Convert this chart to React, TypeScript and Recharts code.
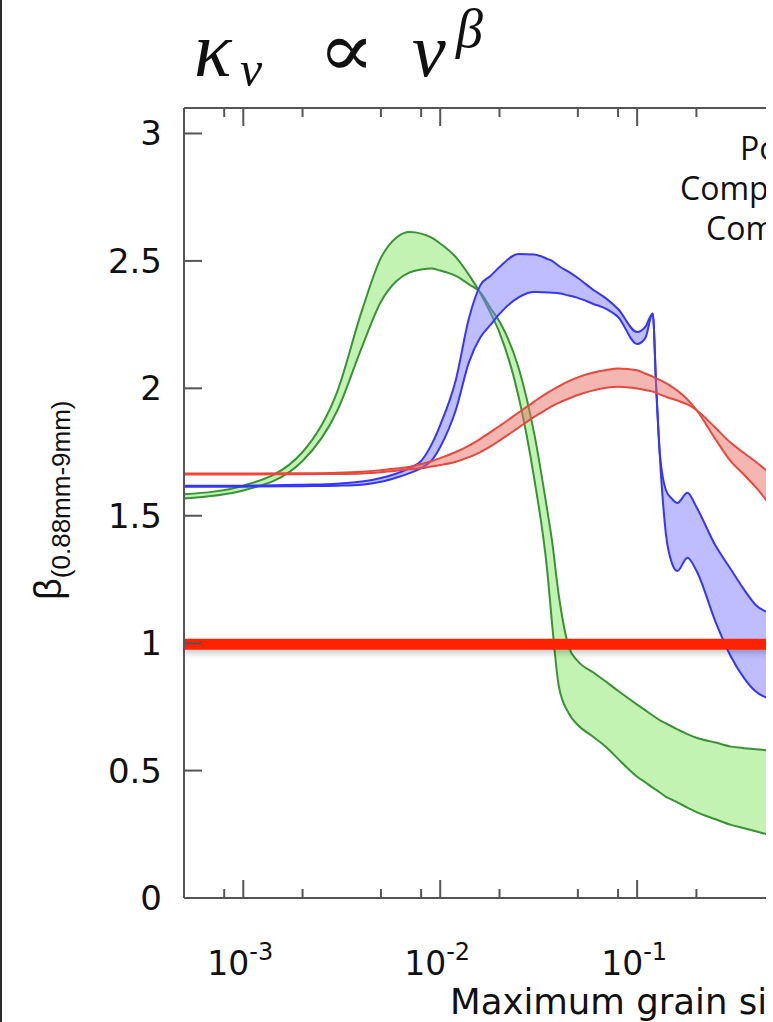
import React from "react";
import { ComposedChart, Area, XAxis, YAxis, ReferenceLine } from "recharts";

// maximum grain size (cm), log axis
const grainSize = [
  5e-4, 1e-3, 2e-3, 3e-3, 4e-3, 5e-3, 6e-3, 7e-3, 8e-3, 9e-3, 0.01, 0.012, 0.014, 0.016,
  0.018, 0.02, 0.025, 0.03, 0.035, 0.037, 0.04, 0.045, 0.05, 0.06, 0.07, 0.08, 0.1, 0.11,
  0.12, 0.125, 0.13, 0.14, 0.15, 0.16, 0.18, 0.2, 0.25, 0.3, 0.35, 0.4, 0.5, 0.6,
];

// green band: two edges
const greenA = [
  1.584, 1.618, 1.75, 1.987, 2.304, 2.512, 2.592, 2.613, 2.607, 2.592, 2.568, 2.515, 2.445, 2.372,
  2.296, 2.219, 1.968, 1.647, 1.28, 1.075, 0.832, 0.724, 0.679, 0.632, 0.591, 0.546, 0.476, 0.454,
  0.433, 0.424, 0.415, 0.397, 0.386, 0.375, 0.355, 0.337, 0.309, 0.287, 0.274, 0.262, 0.242, 0.23,
];
const greenB = [
  1.568, 1.599, 1.715, 1.912, 2.161, 2.34, 2.421, 2.455, 2.466, 2.47, 2.462, 2.441, 2.408, 2.376,
  2.315, 2.262, 2.081, 1.823, 1.519, 1.399, 1.188, 0.985, 0.929, 0.885, 0.847, 0.813, 0.759, 0.737,
  0.716, 0.707, 0.698, 0.685, 0.673, 0.662, 0.643, 0.629, 0.61, 0.594, 0.588, 0.584, 0.576, 0.57,
];

// blue band
const blueU = [
  1.618, 1.618, 1.622, 1.626, 1.634, 1.648, 1.666, 1.687, 1.715, 1.777, 1.856, 2.033, 2.276, 2.405,
  2.441, 2.476, 2.527, 2.525, 2.508, 2.5, 2.48, 2.457, 2.433, 2.386, 2.351, 2.311, 2.221, 2.241,
  2.294, 2.0, 1.758, 1.601, 1.567, 1.55, 1.59, 1.534, 1.383, 1.288, 1.209, 1.15, 1.11, 1.08,
];
const blueL = [
  1.614, 1.614, 1.616, 1.618, 1.622, 1.633, 1.65, 1.667, 1.687, 1.715, 1.77, 1.915, 2.103, 2.2,
  2.249, 2.292, 2.357, 2.378, 2.376, 2.375, 2.373, 2.364, 2.355, 2.331, 2.311, 2.28, 2.174, 2.197,
  2.294, 2.0, 1.75, 1.428, 1.315, 1.283, 1.335, 1.284, 1.084, 0.946, 0.862, 0.81, 0.776, 0.757,
];

// red band
const redA = [
  1.666, 1.666, 1.667, 1.669, 1.673, 1.679, 1.685, 1.692, 1.703, 1.714, 1.726, 1.75, 1.775, 1.802,
  1.828, 1.852, 1.905, 1.948, 1.982, 1.993, 2.008, 2.028, 2.043, 2.062, 2.072, 2.078, 2.071, 2.058,
  2.046, 2.039, 2.033, 2.02, 2.006, 1.991, 1.956, 1.915, 1.8, 1.712, 1.66, 1.612, 1.522, 1.463,
];
const redB = [
  1.662, 1.662, 1.663, 1.664, 1.666, 1.671, 1.677, 1.682, 1.686, 1.693, 1.699, 1.712, 1.73, 1.75,
  1.772, 1.795, 1.846, 1.888, 1.919, 1.93, 1.943, 1.96, 1.974, 1.992, 2.002, 2.006, 1.999, 1.993,
  1.987, 1.982, 1.976, 1.967, 1.959, 1.952, 1.937, 1.915, 1.845, 1.785, 1.745, 1.712, 1.652, 1.612,
];

// only the part of the axis that is in view
const xTicks = [8e-4, 1e-3, 2e-3, 5e-3, 8e-3, 0.01, 0.02, 0.05, 0.08, 0.1, 0.2];
const yTicks = [0, 0.5, 1, 1.5, 2, 2.5, 3];
const legendLabels = ["Porous", "Compact + ice", "Compact"];

const bands = grainSize.map((x, i) => ({
  x,
  green: [greenB[i], greenA[i]],
  blue: [blueL[i], blueU[i]],
  red: [redB[i], redA[i]],
}));

const AXIS = "#555";
const TXT = "#111";

const isDecade = (v: number) => Math.abs(Math.log10(v) - Math.round(Math.log10(v))) < 1e-6;

const BottomTick = (props: any) => {
  const { x, y, payload } = props;
  const major = isDecade(payload.value);
  return (
    <g>
      <line x1={x} x2={x} y1={y} y2={y - (major ? 18 : 9)} stroke={AXIS} strokeWidth={2} />
      {major && (
        <text x={x - 36} y={y + 77} fontFamily="DejaVu Sans" fontSize={33} fill={TXT}>
          10<tspan dy={-15} fontSize={24}>{Math.round(Math.log10(payload.value))}</tspan>
        </text>
      )}
    </g>
  );
};

const TopTick = (props: any) => {
  const { x, y, payload } = props;
  const major = isDecade(payload.value);
  return <line x1={x} x2={x} y1={y} y2={y + (major ? 18 : 9)} stroke={AXIS} strokeWidth={2} />;
};

const LeftTick = (props: any) => {
  const { x, y, payload } = props;
  return (
    <g>
      <line x1={x} x2={x + 18} y1={y} y2={y} stroke={AXIS} strokeWidth={2} />
      <text x={x - 22} y={y} dy={12} textAnchor="end" fontFamily="DejaVu Sans" fontSize={34} fill={TXT}>
        {payload.value}
      </text>
    </g>
  );
};

const ShadowLine = (props: any) => {
  const { x1, y1, x2, y2 } = props;
  return (
    <g>
      <line x1={x1} x2={x2} y1={y1 + 6} y2={y2 + 6} stroke="#000" strokeOpacity={0.22} strokeWidth={8} style={{ filter: "blur(3px)" }} />
      <line x1={x1} x2={x2} y1={y1 + 1} y2={y2 + 1} stroke="#ff2200" strokeWidth={11} />
    </g>
  );
};

export default function App() {
  return (
    <div style={{ position: "fixed", left: 0, top: 0, width: 766, height: 1022, overflow: "hidden", background: "#fff" }}>
      <div style={{ position: "absolute", left: 0, top: 0, width: 2, height: 1022, background: "#2b2b2b", zIndex: 2 }} />
      <div style={{ position: "absolute", left: 0, top: 0 }}>
        <ComposedChart width={1052} height={1022} data={bands} margin={{ top: 98, right: 21, bottom: 64, left: 104 }}>
          <XAxis
            dataKey="x"
            type="number"
            scale="log"
            domain={[5e-4, 10]}
            allowDataOverflow
            ticks={xTicks}
            interval={0}
            tickSize={0}
            tickMargin={0}
            tickLine={false}
            tick={BottomTick}
            height={60}
            axisLine={{ stroke: AXIS, strokeWidth: 2 }}
          />
          <XAxis
            xAxisId="top"
            orientation="top"
            dataKey="x"
            type="number"
            scale="log"
            domain={[5e-4, 10]}
            allowDataOverflow
            ticks={xTicks}
            interval={0}
            tickSize={0}
            tickMargin={0}
            tickLine={false}
            tick={TopTick}
            height={10}
            axisLine={{ stroke: AXIS, strokeWidth: 2 }}
          />
          <YAxis
            type="number"
            domain={[0, 3.1]}
            allowDataOverflow
            ticks={yTicks}
            interval={0}
            tickSize={0}
            tickMargin={0}
            tickLine={false}
            tick={LeftTick}
            width={80}
            axisLine={{ stroke: AXIS, strokeWidth: 2 }}
          />
          <Area type="monotone" dataKey="green" stroke="#3a9236" strokeWidth={2} fill="#86e866" fillOpacity={0.5} dot={false} activeDot={false} isAnimationActive={false} />
          <Area type="monotone" dataKey="blue" stroke="#3535ff" strokeWidth={2} fill="#7b7bff" fillOpacity={0.5} dot={false} activeDot={false} isAnimationActive={false} />
          <Area type="monotone" dataKey="red" stroke="#e8483e" strokeWidth={2} fill="#ea6e64" fillOpacity={0.5} dot={false} activeDot={false} isAnimationActive={false} />
          <ReferenceLine y={1} shape={ShadowLine} />
        </ComposedChart>
      </div>
      <svg width={766} height={1022} style={{ position: "absolute", left: 0, top: 0, pointerEvents: "none" }}>
        <text x={194} y={76} fontFamily="Liberation Serif" fontStyle="italic" fontSize={78} fill={TXT}>κ</text>
        <text x={240} y={86} fontFamily="Liberation Serif" fontStyle="italic" fontSize={50} fill={TXT}>ν</text>
        <text x={318} y={76} fontFamily="DejaVu Serif" fontSize={76} textLength={57} lengthAdjust="spacingAndGlyphs" fill={TXT}>∝</text>
        <text x={412} y={76} fontFamily="Liberation Serif" fontStyle="italic" fontSize={76} fill={TXT}>ν</text>
        <text x={456} y={47} fontFamily="Liberation Serif" fontStyle="italic" fontSize={54} fill={TXT}>β</text>
        {legendLabels.map((t, i) => (
          <text key={t} x={[740, 680, 706][i]} y={160 + i * 40} fontFamily="Open Sans" fontSize={32} fill={TXT}>
            {t}
          </text>
        ))}
        <text transform="rotate(-90 61 600)" x={61} y={600} fontFamily="Liberation Sans" fontSize={38} fill={TXT}>
          β<tspan dy={9} fontSize={26}>(0.88mm-9mm)</tspan>
        </text>
        <text x={450} y={1014} fontFamily="DejaVu Sans" fontSize={35.5} fill={TXT}>
          Maximum grain size (cm)
        </text>
      </svg>
    </div>
  );
}
